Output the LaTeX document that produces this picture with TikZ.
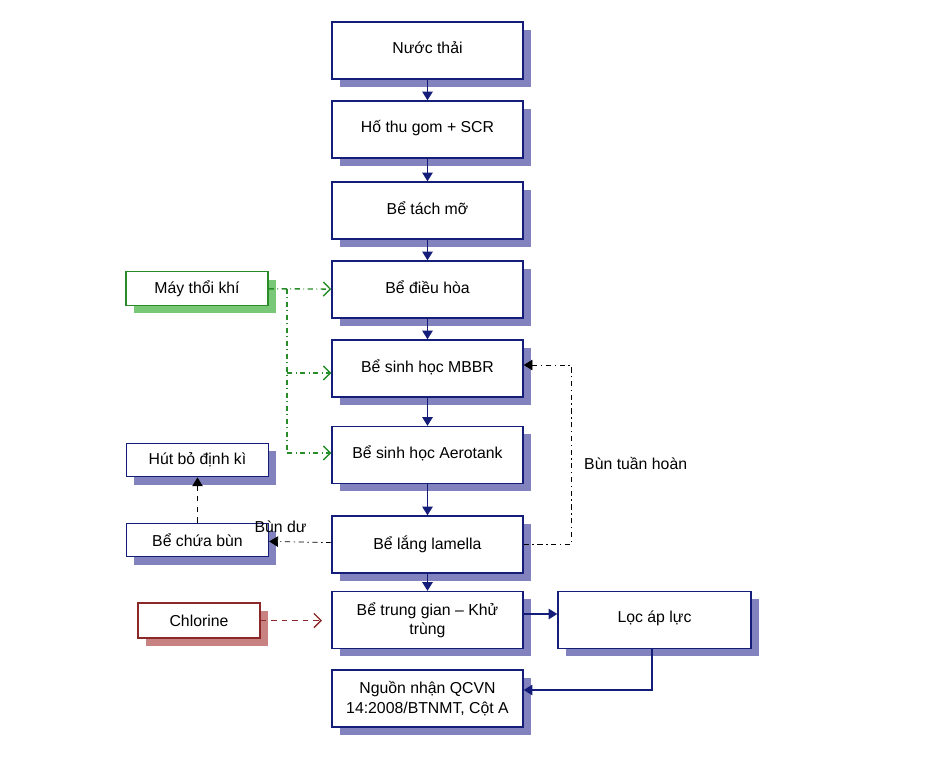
\documentclass[tikz,border=0pt]{standalone}
\usepackage{fontspec}
\setmainfont{Liberation Sans}
\usetikzlibrary{arrows.meta,positioning,shadows}
\definecolor{navy}{RGB}{20,30,120}
\definecolor{shblue}{RGB}{130,130,190}
\definecolor{airgreen}{RGB}{40,140,40}
\definecolor{shgreen}{RGB}{120,200,120}
\definecolor{clred}{RGB}{140,40,40}
\definecolor{shred}{RGB}{200,130,130}

\begin{document}
\begin{tikzpicture}[x=0.02cm,y=-0.02cm,
  every node/.style={font=\fontsize{9}{11}\selectfont},
  box/.style={draw=navy, fill=white, thick, minimum width=3.82cm, minimum height=1.14cm, align=center,
    drop shadow={shadow xshift=4.5pt, shadow yshift=-4.5pt, fill=shblue, opacity=1}},
  top/.style={label={[anchor=north,yshift=-8pt]north:#1}},
  side/.style={draw=navy, fill=white, thick, minimum width=2.84cm, minimum height=0.67cm,
    drop shadow={shadow xshift=4.5pt, shadow yshift=-4.5pt, fill=shblue, opacity=1}},
  arrow/.style={-{Triangle[length=5pt,width=6pt]}, thick, navy},
  air/.style={-{Straight Barb[length=4pt]}, airgreen, dash dot, thick}
]
\useasboundingbox (0,0) rectangle (950,774);

% main line
\node[box, top={Nước thải}] (water) at (427.5,50.5) {};
\node[box, top={Hố thu gom + SCR}] (pit) at (427.5,129.5) {};
\node[box, top={Bể tách mỡ}] (grease) at (427.5,210.5) {};
\node[box, top={Bể điều hòa}] (equal) at (427.5,289.5) {};
\node[box, top={Bể sinh học MBBR}] (mbbr) at (427.5,368.5) {};
\node[box, top={Bể sinh học Aerotank}] (aero) at (427.5,455) {};
\node[box, top={Bể lắng lamella}] (settle) at (427.5,544.5) {};
\node[box] (mid) at (427.5,620) {Bể trung gian – Khử\\trùng};
\node[box] (out) at (427.5,698.5) {Nguồn nhận QCVN\\14:2008/BTNMT, Cột A};
\node[box, minimum width=3.86cm, top={Lọc áp lực}] (filter) at (654.5,620) {};

% side boxes
\node[side, draw=airgreen, drop shadow={shadow xshift=4.5pt, shadow yshift=-4.5pt, fill=shgreen, opacity=1}] (blower) at (197,288.5) {Máy thổi khí};
\node[side] (suck) at (197.5,460) {Hút bỏ định kì};
\node[side] (sludge) at (197.5,540) {Bể chứa bùn};
\node[side, draw=clred, minimum width=2.44cm, minimum height=0.7cm,
  drop shadow={shadow xshift=4.5pt, shadow yshift=-4.5pt, fill=shred, opacity=1}] (chlor) at (199,620.5) {Chlorine};

% flow
\draw[arrow] (water) -- (pit);
\draw[arrow] (pit) -- (grease);
\draw[arrow] (grease) -- (equal);
\draw[arrow] (equal) -- (mbbr);
\draw[arrow] (mbbr) -- (aero);
\draw[arrow] (aero) -- (settle);
\draw[arrow] (settle) -- (mid);
\draw[arrow] (mid.east |- 0,614) -- (filter.west |- 0,614);
\draw[arrow] (filter.south -| 652,0) |- (out.east |- 0,690);

% air
\coordinate (trunk) at (287,288.5);
\draw[air] (blower) -- (equal);
\draw[airgreen, dash dot, thick] (trunk) -- (287,453);
\draw[air] (287,373) -- (mbbr.west |- 0,373);
\draw[air] (287,453) -- (aero.west |- 0,453);

% sludge
\draw[arrow, dash dot, thin, black] (settle) -- node[above left=2pt and 0pt, pos=0.3, black] {Bùn dư} (sludge);
\draw[arrow, dashed, thin, black] (sludge) -- (suck);
\draw[arrow, dash dot, thin, black] (settle.east) -- (571,544.5) -- node[right=4pt, pos=0.45] {Bùn tuần hoàn} (571,365) -- (mbbr.east |- 0,365);

% chlorine
\draw[-{Straight Barb[length=4pt]}, dashed, thick, clred] (chlor) -- (322,620.5);
\end{tikzpicture}
\end{document}
